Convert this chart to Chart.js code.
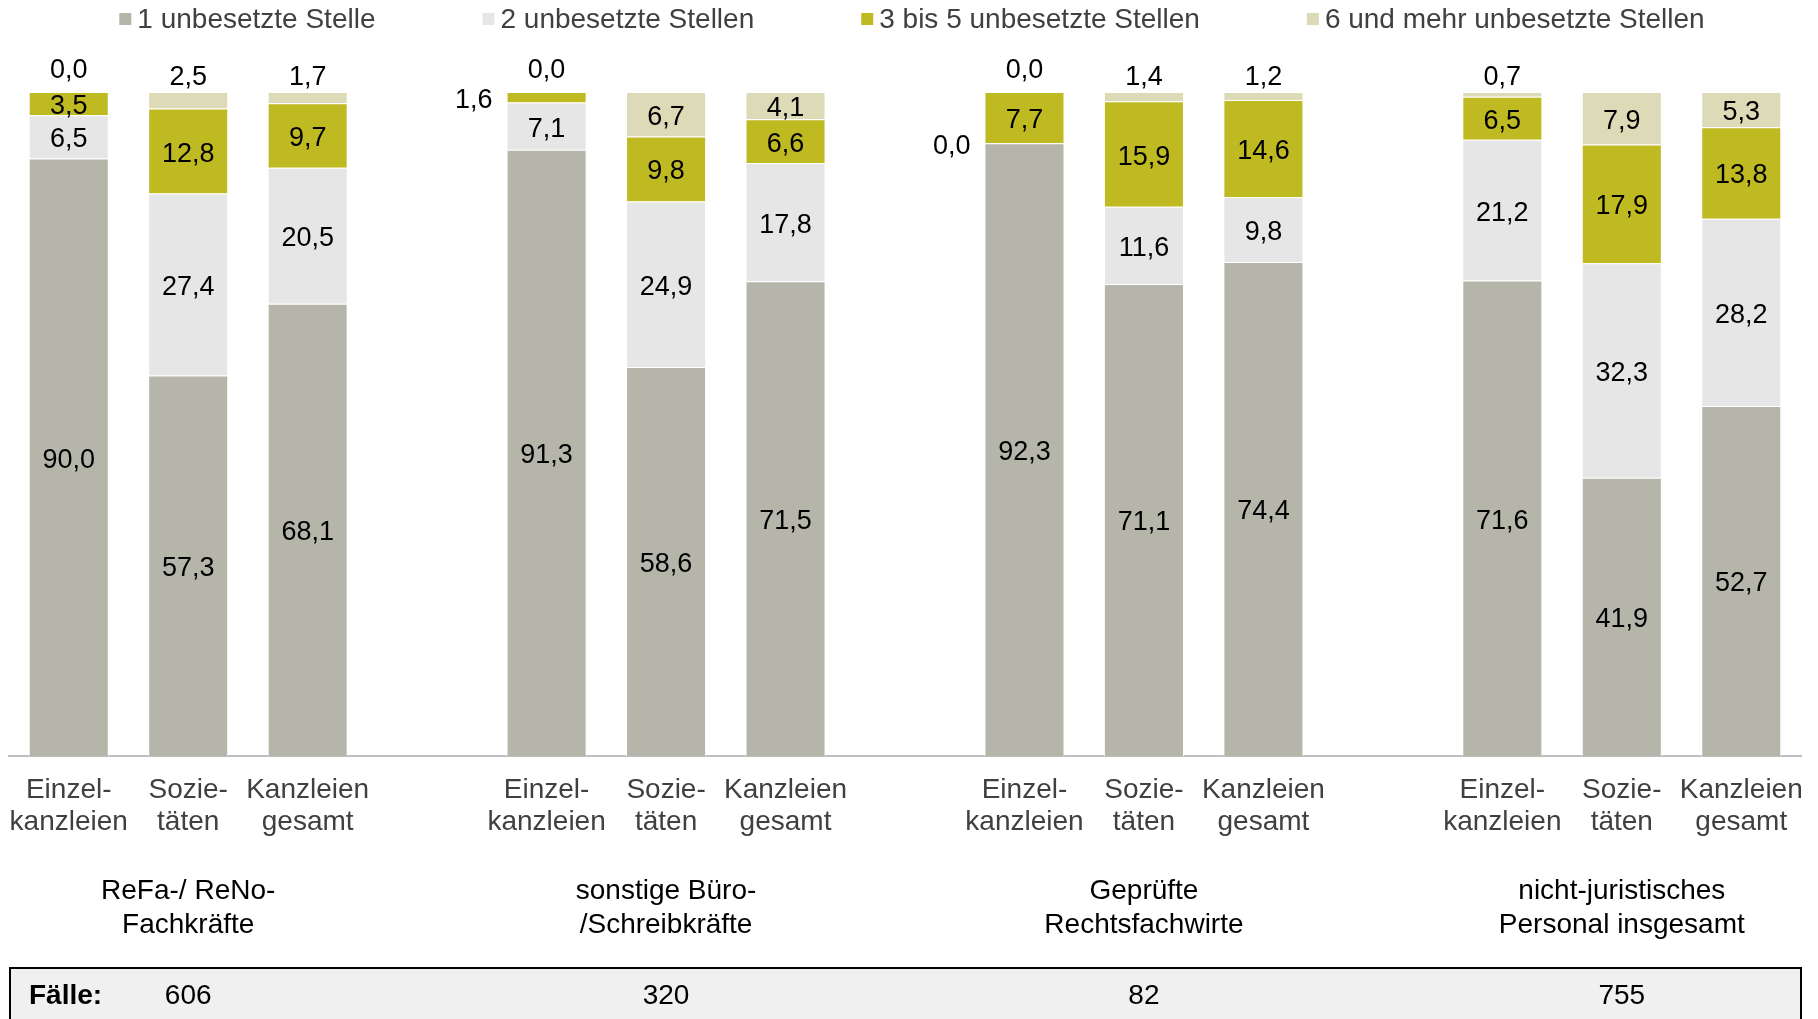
<!DOCTYPE html>
<html lang="de">
<head>
<meta charset="utf-8">
<title>Unbesetzte Stellen</title>
<script src="https://cdn.jsdelivr.net/npm/chart.js@4.4.1/dist/chart.umd.min.js"></script>
<style>
  html, body { margin: 0; padding: 0; background: #fff; }
  #wrap { width: 1818px; height: 1019px; position: relative; }
</style>
</head>
<body>
<div id="wrap"><canvas id="stackChart"></canvas></div>
<script>
// categories: three kinds of firm per staff group, with an empty slot between groups
const categories = [
	['Einzel-', 'kanzleien'], ['Sozie-', 'täten'], ['Kanzleien', 'gesamt'], '',
	['Einzel-', 'kanzleien'], ['Sozie-', 'täten'], ['Kanzleien', 'gesamt'], '',
	['Einzel-', 'kanzleien'], ['Sozie-', 'täten'], ['Kanzleien', 'gesamt'], '',
	['Einzel-', 'kanzleien'], ['Sozie-', 'täten'], ['Kanzleien', 'gesamt']
];
const seriesNames = ['1 unbesetzte Stelle', '2 unbesetzte Stellen', '3 bis 5 unbesetzte Stellen', '6 und mehr unbesetzte Stellen'];
const oneOpen   = [90.0, 57.3, 68.1, null, 91.3, 58.6, 71.5, null, 92.3, 71.1, 74.4, null, 71.6, 41.9, 52.7];
const twoOpen   = [6.5, 27.4, 20.5, null, 7.1, 24.9, 17.8, null, 0.0, 11.6, 9.8, null, 21.2, 32.3, 28.2];
const threeToFive = [3.5, 12.8, 9.7, null, 1.6, 9.8, 6.6, null, 7.7, 15.9, 14.6, null, 6.5, 17.9, 13.8];
const sixPlus   = [0.0, 2.5, 1.7, null, 0.0, 6.7, 4.1, null, 0.0, 1.4, 1.2, null, 0.7, 7.9, 5.3];
const groupNames = [
	['ReFa-/ ReNo-', 'Fachkräfte'],
	['sonstige Büro-', '/Schreibkräfte'],
	['Geprüfte', 'Rechtsfachwirte'],
	['nicht-juristisches', 'Personal insgesamt']
];
const cases = [606, 320, 82, 755];
const colors = ['#b5b5aa', '#e6e6e6', '#bfb922', '#dddab8'];

const FONT = '"Liberation Sans", Arial, sans-serif';

function fmt(v) {
	return v.toFixed(1).replace('.', ',');
}

// value labels: inside the segment, above the bar or left of it for thin ones
const valueLabels = {
	id: 'valueLabels',
	afterDatasetsDraw(chart) {
		const ctx = chart.ctx;
		ctx.save();
		ctx.font = '27px ' + FONT;
		ctx.fillStyle = '#000';
		ctx.textBaseline = 'middle';
		chart.data.datasets.forEach((ds, di) => {
			const meta = chart.getDatasetMeta(di);
			meta.data.forEach((bar, i) => {
				const v = ds.data[i];
				if (v === null || v === undefined) return;
				const mid = (bar.y + bar.base) / 2;
				if (di === 3 && v < 3) {
					ctx.textAlign = 'center';
					ctx.fillText(fmt(v), bar.x, bar.y - (v === 0 ? 21 : 14));
				} else if (di > 0 && v < 2) {
					ctx.textAlign = 'right';
					ctx.fillText(fmt(v), bar.x - bar.width / 2 - 14, mid + 3);
				} else {
					ctx.textAlign = 'center';
					ctx.fillText(fmt(v), bar.x, mid + 3);
				}
			});
		});
		ctx.restore();
	}
};

// legend row, group captions and the "Fälle" box
const extras = {
	id: 'extras',
	afterDraw(chart) {
		const ctx = chart.ctx;
		const x = chart.scales.x;
		ctx.save();

		// legend
		ctx.font = '28px ' + FONT;
		ctx.textBaseline = 'middle';
		ctx.textAlign = 'left';
		const box = 12, gapBox = 6, gapItem = 107;
		let total = 0;
		const widths = seriesNames.map(n => ctx.measureText(n).width);
		widths.forEach(w => total += box + gapBox + w);
		total += gapItem * (seriesNames.length - 1);
		let lx = (chart.chartArea.left + chart.chartArea.right) / 2 + 7 - total / 2;
		const ly = 19;
		seriesNames.forEach((n, i) => {
			ctx.fillStyle = colors[i];
			ctx.fillRect(lx, ly - box / 2, box, box);
			ctx.fillStyle = '#404040';
			ctx.fillText(n, lx + box + gapBox, ly + 1);
			lx += box + gapBox + widths[i] + gapItem;
		});

		// group captions under the firm labels
		ctx.font = '28px ' + FONT;
		ctx.fillStyle = '#000';
		ctx.textAlign = 'center';
		groupNames.forEach((lines, g) => {
			const cx = x.getPixelForValue(g * 4 + 1);
			lines.forEach((t, k) => ctx.fillText(t, cx, 891 + k * 34));
		});

		// case count box
		ctx.fillStyle = '#f0f0f0';
		ctx.fillRect(10, 968, 1791, 60);
		ctx.strokeStyle = '#000';
		ctx.lineWidth = 2;
		ctx.strokeRect(10, 968, 1791, 60);
		ctx.fillStyle = '#000';
		ctx.font = 'bold 28px ' + FONT;
		ctx.textAlign = 'left';
		ctx.fillText('Fälle:', 29, 996);
		ctx.font = '28px ' + FONT;
		ctx.textAlign = 'center';
		cases.forEach((c, g) => {
			ctx.fillText(String(c), x.getPixelForValue(g * 4 + 1), 996);
		});
		ctx.restore();
	}
};

const stackCtx = document.getElementById('stackChart').getContext('2d');
const stackChart = new Chart(stackCtx, {
	type: 'bar',
	data: {
		labels: categories,
		datasets: [oneOpen, twoOpen, threeToFive, sixPlus].map((d, i) => ({
			label: seriesNames[i],
			data: d,
			backgroundColor: colors[i],
			borderColor: 'rgba(255, 255, 255, 0.85)',
			borderWidth: 1,
			categoryPercentage: 1,
			barPercentage: 0.67
		}))
	},
	options: {
		responsive: true,
		maintainAspectRatio: false,
		animation: false,
		layout: { padding: { left: 9, right: 17, top: 92, bottom: 0 } },
		plugins: {
			legend: { display: false },
			tooltip: { enabled: false }
		},
		scales: {
			x: {
				stacked: true,
				grid: { display: false, drawTicks: false },
				border: { display: true, color: '#bfbfbf', width: 2 },
				ticks: {
					padding: 18,
					maxRotation: 0,
					autoSkip: false,
					color: '#404040',
					font: { family: FONT, size: 28, lineHeight: 1.16 }
				},
				afterFit(scale) {
					// labels may overhang the plot edges; keep the plot full width
					scale.height = 263;
					scale.paddingLeft = 0;
					scale.paddingRight = 0;
				}
			},
			y: {
				stacked: true,
				display: false,
				min: 0,
				max: 100
			}
		}
	},
	plugins: [valueLabels, extras]
});
</script>
</body>
</html>
